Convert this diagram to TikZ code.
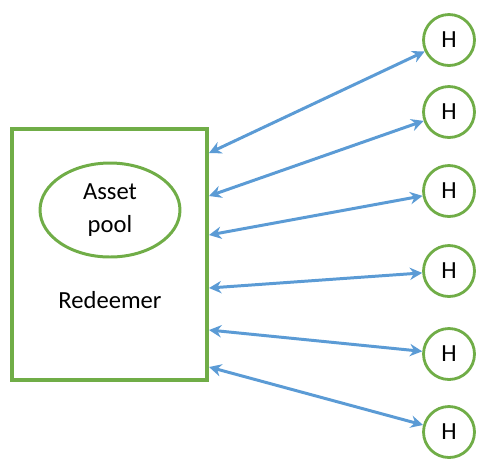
\documentclass[tikz,border=0pt]{standalone}
\usepackage{fontspec}
\setmainfont{Carlito}
\usetikzlibrary{arrows.meta,shapes.geometric}
\definecolor{boxgreen}{RGB}{112,173,71}
\definecolor{linkblue}{RGB}{91,155,213}
\tikzset{
  redbox/.style={rectangle, draw=boxgreen, line width=2pt,
                 minimum width=3.9cm, minimum height=5.02cm, inner sep=0pt},
  pool/.style={ellipse, draw=boxgreen, line width=1.7pt, align=center,
               minimum width=2.8cm, minimum height=1.88cm, inner sep=0pt,
               font=\fontsize{14}{19}\selectfont},
  hnode/.style={circle, draw=boxgreen, line width=1.6pt, minimum size=1.02cm,
                inner sep=0pt, font=\fontsize{14}{16}\selectfont},
  link/.style={{Stealth[length=7pt,width=7pt]}-{Stealth[length=7pt,width=7pt]},
               draw=linkblue, line width=1.7pt},
}
\begin{document}
\begin{tikzpicture}[x=0.02cm,y=-0.02cm]
  \useasboundingbox (0,0) rectangle (479,458);

  % Redeemer with asset pool
  \node[redbox] (redeemer) at (109.5,254.5) {};
  \node[pool] (pool) at (110,210) {Asset\\pool};
  \node[font=\fontsize{14}{16}\selectfont] (rlabel) at (110,300) {Redeemer};

  % holders and links
  \foreach \hy/\py [count=\k] in {40/153, 112/196, 191/235, 271/288, 354/330, 432/367}{
    \node[hnode] (h\k) at (449,\hy) {H};
    \coordinate (p\k) at (209,\py);
    \draw[link] (p\k) -- (h\k);
  }
\end{tikzpicture}
\end{document}
